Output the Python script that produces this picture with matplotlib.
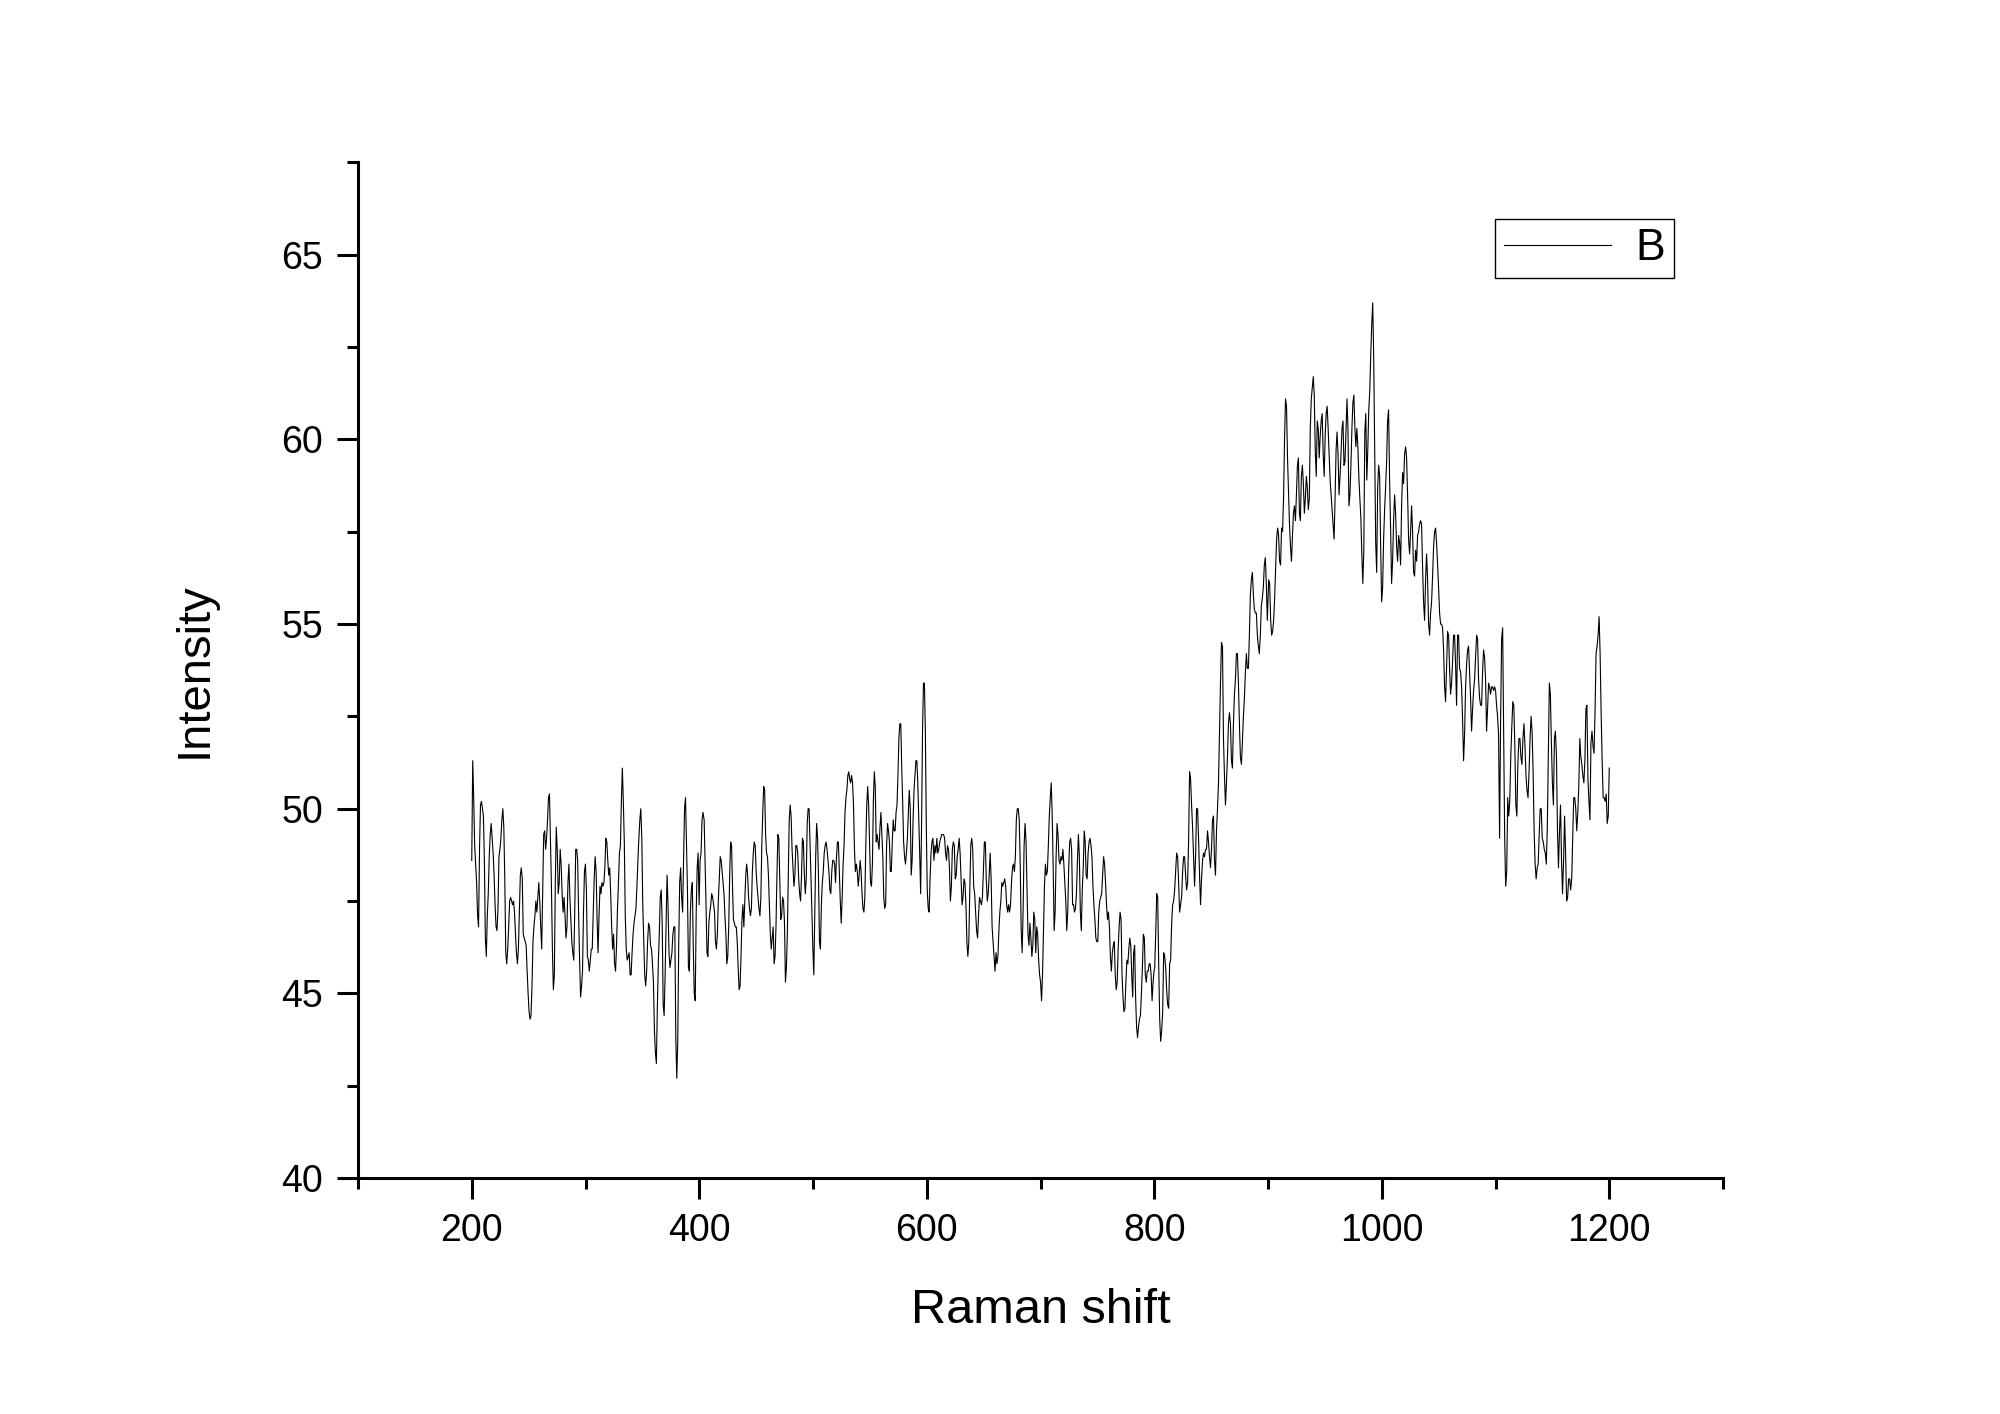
import numpy as np
import matplotlib
matplotlib.use("Agg")
import matplotlib.pyplot as plt
from matplotlib.ticker import MultipleLocator

plt.rcParams['font.family'] = ['Liberation Sans', 'DejaVu Sans']

# spectrum, in pieces (start shift, end shift, intensities)
seg1_range = [200.0, 403.3]
seg1 = [48.6, 51.3, 50.3, 49.0, 48.5, 48.0, 47.1, 46.8, 48.9, 50.1, 50.2, 50.0, 49.8, 48.6, 46.5, 46.0,
        47.1, 47.7, 48.7, 49.3, 49.6, 49.2, 48.8, 48.2, 47.4, 46.8, 46.7, 47.3, 48.7, 48.9, 49.2, 49.7,
        50.0, 49.5, 48.1, 46.1, 45.8, 46.2, 46.8, 47.5, 47.6, 47.5, 47.4, 47.5, 47.2, 46.6, 46.1, 45.8,
        46.2, 47.2, 48.2, 48.4, 48.1, 46.6, 46.5, 46.4, 46.3, 45.6, 45.0, 44.5, 44.3, 44.4, 45.2, 46.4,
        46.8, 47.1, 47.5, 47.2, 47.6, 48.0, 47.5, 46.8, 46.2, 47.7, 49.3, 49.4, 48.9, 49.2, 49.7, 50.3,
        50.4, 49.1, 47.9, 46.2, 45.1, 45.5, 48.0, 49.5, 48.9, 47.7, 48.0, 48.9, 48.5, 47.7, 47.2, 47.6,
        47.1, 46.5, 46.8, 48.0, 48.5, 47.6, 47.0, 46.4, 46.1, 45.9, 47.2, 48.9, 48.9, 48.6, 47.1, 45.9,
        44.9, 45.2, 45.6, 47.2, 48.3, 48.5, 47.8, 46.0, 45.9, 45.6, 45.9, 46.2, 46.2, 47.2, 48.1, 48.7,
        48.3, 47.0, 46.1, 47.1, 47.9, 47.7, 48.0, 47.9, 48.0, 48.4, 49.2, 49.1, 48.6, 48.2, 48.4, 47.7,
        46.8, 46.2, 46.6, 45.8, 45.6, 46.3, 47.3, 48.0, 48.8, 49.0, 50.2, 51.1, 50.2, 49.1, 47.1, 46.2,
        45.9, 46.0, 46.1, 45.5, 45.5, 46.1, 46.6, 46.9, 47.1, 47.3, 47.9, 48.6, 49.2, 49.7, 50.0, 49.2,
        47.4, 46.4, 45.5, 45.2, 45.6, 46.4, 46.9, 46.8, 46.3, 46.2, 45.8, 45.3, 44.0, 43.4, 43.1, 44.6,
        45.8, 46.6, 47.6, 47.8, 46.9, 44.7, 44.4, 45.5, 46.9, 48.2, 47.4, 46.1, 45.7, 45.9, 46.1, 46.6,
        46.8, 46.8, 43.8, 42.7, 43.7, 46.3, 48.0, 48.4, 47.6, 47.2, 48.6, 50.0, 50.3, 49.1, 47.8, 45.7,
        45.6, 47.2, 47.8, 48.0, 46.2, 45.0, 44.8, 47.2, 48.4, 48.8, 47.4, 48.6, 48.8, 49.7, 49.9]

seg2_range = [404.3, 602.1]
seg2 = [49.7, 48.6, 47.4, 46.1, 46.0, 46.9, 47.2, 47.4, 47.7, 47.6, 47.4, 47.2, 46.4, 46.2, 46.6, 47.5,
        48.1, 48.7, 48.6, 48.3, 48.0, 47.7, 47.1, 46.6, 45.8, 46.0, 46.8, 48.2, 49.1, 49.0, 47.9, 47.0,
        46.9, 46.8, 46.8, 46.4, 45.7, 45.1, 45.2, 46.0, 47.0, 47.4, 46.8, 47.5, 48.2, 48.5, 48.2, 47.6,
        47.3, 47.1, 47.3, 48.3, 48.8, 49.1, 49.0, 48.3, 47.9, 47.6, 47.3, 47.1, 47.6, 49.0, 49.9, 50.6,
        50.5, 49.3, 48.8, 48.7, 48.2, 47.4, 46.6, 46.2, 46.5, 46.8, 45.8, 46.0, 46.8, 48.2, 49.3, 49.2,
        48.1, 47.0, 47.1, 47.6, 47.5, 46.9, 45.3, 45.7, 46.6, 48.1, 49.7, 50.1, 49.8, 48.9, 48.4, 47.9,
        48.2, 49.0, 49.0, 48.8, 48.1, 47.7, 47.5, 48.2, 49.2, 49.1, 48.2, 47.7, 48.1, 49.6, 50.0, 50.0,
        49.1, 48.2, 47.2, 46.2, 45.5, 47.1, 48.7, 49.6, 49.2, 48.1, 46.4, 46.2, 47.4, 48.0, 48.3, 48.8,
        49.0, 49.1, 48.9, 48.6, 48.3, 47.8, 47.7, 48.3, 48.6, 48.6, 48.5, 48.0, 48.7, 49.1, 49.1, 48.3,
        47.5, 46.9, 47.6, 48.5, 49.0, 49.9, 50.3, 50.5, 50.9, 51.0, 50.8, 50.7, 50.9, 50.7, 50.1, 48.9,
        48.3, 48.5, 48.3, 47.9, 48.2, 48.6, 48.3, 47.7, 47.3, 47.2, 47.6, 49.0, 50.1, 50.6, 50.1, 49.1,
        48.0, 47.9, 48.5, 50.2, 51.0, 50.6, 49.1, 49.3, 49.1, 48.9, 49.5, 49.9, 49.3, 48.7, 47.6, 47.3,
        47.4, 49.0, 49.6, 49.4, 49.1, 48.3, 48.3, 49.1, 49.7, 49.4, 49.4, 49.9, 50.1, 50.9, 51.9, 52.3,
        52.3, 51.1, 50.2, 49.1, 48.7, 48.5, 48.8, 49.2, 49.9, 50.5, 50.0, 48.2, 48.6, 49.7, 50.5, 50.9,
        51.3, 51.3, 50.7, 49.8, 48.8, 47.7, 49.6, 52.1, 53.4, 53.4, 52.1, 49.5, 47.8, 47.3, 47.2]

seg3_range = [602.9, 799.8]
seg3 = [48.1, 48.8, 49.1, 49.2, 48.6, 49.0, 48.8, 49.2, 48.8, 48.9, 49.1, 49.2, 49.3, 49.3, 49.3, 49.2,
        48.8, 48.6, 49.0, 48.9, 48.4, 47.5, 47.9, 48.9, 49.1, 49.0, 48.1, 48.2, 48.7, 48.9, 49.2, 48.8,
        48.1, 47.4, 47.6, 48.1, 48.0, 47.4, 46.4, 46.0, 46.4, 47.8, 49.0, 49.2, 48.9, 47.9, 47.7, 47.2,
        46.7, 46.5, 47.1, 47.6, 47.5, 47.4, 47.6, 48.3, 49.1, 49.1, 48.1, 47.5, 47.7, 48.2, 48.8, 48.1,
        46.8, 46.4, 46.0, 45.6, 46.1, 45.8, 46.0, 46.7, 47.2, 47.5, 48.0, 47.9, 48.0, 48.1, 47.9, 47.4,
        47.2, 47.4, 47.2, 47.4, 48.0, 48.4, 48.5, 48.3, 48.7, 49.7, 50.0, 50.0, 49.7, 48.5, 46.7, 46.1,
        47.3, 49.0, 49.6, 49.1, 47.8, 46.6, 46.3, 46.9, 46.5, 46.0, 46.3, 47.2, 47.0, 46.1, 46.8, 46.6,
        45.9, 45.5, 45.3, 44.8, 45.5, 46.7, 47.9, 48.5, 48.2, 48.3, 49.0, 49.8, 50.3, 50.7, 49.8, 48.4,
        46.7, 47.2, 48.7, 49.6, 49.3, 48.6, 48.5, 48.7, 48.6, 48.9, 48.5, 48.0, 47.5, 46.7, 47.2, 48.4,
        49.1, 49.2, 48.9, 47.4, 47.4, 47.2, 47.3, 47.7, 48.6, 49.3, 48.7, 47.2, 46.7, 47.8, 48.4, 49.4,
        49.1, 48.2, 48.1, 48.8, 49.1, 49.2, 49.0, 48.7, 47.9, 47.4, 47.0, 46.5, 46.4, 46.4, 47.2, 47.5,
        47.6, 47.7, 48.2, 48.7, 48.5, 48.0, 47.4, 47.0, 47.2, 46.8, 46.0, 45.6, 46.1, 46.3, 46.4, 45.5,
        45.1, 45.3, 46.2, 46.8, 47.2, 47.0, 45.5, 44.9, 44.5, 44.6, 45.3, 45.9, 45.8, 46.2, 46.5, 46.3,
        45.5, 44.9, 46.1, 46.3, 44.9, 44.1, 43.8, 44.1, 44.3, 44.4, 45.0, 45.7, 46.6, 46.5, 45.5, 45.3,
        45.6, 45.6, 45.8, 45.8, 45.5, 44.8, 45.3, 45.6]

seg4_range = [800.4, 899.4]
seg4 = [45.7, 46.6, 47.7, 47.6, 45.8, 44.3, 43.7, 44.0, 44.5, 46.1, 46.0, 45.7, 45.1, 44.7, 44.6, 45.8,
        45.9, 46.9, 47.4, 47.5, 47.8, 48.3, 48.8, 48.7, 48.0, 47.2, 47.4, 47.6, 48.3, 48.7, 48.7, 48.2,
        47.8, 48.0, 49.1, 51.0, 50.8, 50.1, 49.5, 48.7, 47.9, 48.7, 50.0, 50.0, 49.2, 48.2, 47.4, 48.1,
        48.6, 48.8, 48.7, 48.9, 48.9, 49.4, 49.1, 48.7, 48.4, 48.9, 49.7, 49.8, 48.6, 48.2, 49.4, 50.0,
        50.7, 52.1, 53.4, 54.5, 54.4, 51.9, 50.9, 50.1, 50.7, 51.4, 52.3, 52.6, 52.3, 51.3, 51.1, 52.3,
        53.1, 53.5, 54.2, 54.2, 53.4, 52.3, 51.4, 51.2, 51.8, 52.5, 53.0, 53.7, 54.2, 53.8, 53.8, 54.7,
        55.8, 56.2, 56.4, 55.8, 55.4, 55.3, 55.3, 54.7, 54.4, 54.2, 54.7, 55.5, 55.7, 56.0, 56.6, 56.8,
        56.1, 55.1]

seg5_range = [900.6, 1006.0]
seg5 = [56.2, 56.1, 55.1, 54.7, 54.8, 55.1, 55.7, 56.5, 57.3, 57.6, 57.4, 56.7, 56.6, 57.6, 57.5, 58.4,
        60.0, 61.1, 60.9, 59.5, 58.6, 57.7, 57.1, 56.7, 57.4, 58.0, 58.2, 57.8, 58.5, 59.3, 59.5, 58.0,
        57.8, 59.0, 59.3, 58.8, 58.0, 58.4, 59.0, 58.7, 58.1, 58.4, 60.3, 61.1, 61.4, 61.7, 61.2, 59.7,
        59.0, 60.5, 60.3, 59.5, 60.1, 60.5, 60.7, 59.6, 59.0, 60.1, 60.7, 60.9, 60.3, 59.6, 58.9, 58.5,
        58.1, 57.7, 57.3, 58.4, 59.7, 60.2, 59.6, 58.5, 59.0, 59.6, 60.3, 60.5, 59.3, 59.4, 60.2, 61.1,
        60.3, 58.2, 58.5, 59.3, 60.3, 61.0, 61.2, 60.3, 59.8, 60.3, 59.8, 59.0, 58.4, 57.9, 56.9, 56.1,
        57.0, 60.2, 60.7, 58.9, 59.7, 60.8, 61.3, 62.3, 63.1, 63.7, 62.2, 59.6, 57.2, 56.4, 58.7, 59.3,
        59.0, 57.1, 55.6, 56.0, 57.3, 58.1, 58.7, 59.4, 60.5, 60.8]

seg6_range = [1006.9, 1102.7]
seg6 = [58.9, 57.6, 56.1, 56.7, 57.8, 58.5, 58.0, 57.1, 56.7, 57.4, 57.2, 56.6, 58.2, 59.1, 58.8, 59.6,
        59.8, 59.5, 58.5, 57.3, 56.9, 57.5, 58.2, 57.5, 56.4, 56.3, 57.0, 56.7, 57.4, 57.5, 57.7, 57.8,
        57.7, 56.5, 55.6, 55.1, 56.2, 56.9, 56.2, 55.0, 54.7, 55.3, 55.6, 56.3, 57.1, 57.5, 57.6, 57.2,
        56.6, 56.0, 55.3, 55.0, 55.0, 54.9, 54.3, 53.3, 52.9, 53.9, 54.8, 54.7, 53.8, 53.1, 53.4, 54.0,
        54.7, 54.7, 53.9, 52.8, 54.7, 54.7, 53.8, 53.7, 53.3, 52.4, 51.3, 52.0, 53.3, 53.9, 54.3, 54.4,
        53.7, 53.0, 52.1, 52.7, 53.2, 53.5, 54.1, 54.7, 54.6, 53.5, 53.0, 52.8, 52.8, 53.7, 54.3, 54.1,
        53.5, 52.1, 52.7, 53.4, 53.3, 53.1, 53.3, 53.3, 53.2, 53.3, 53.2, 52.8, 52.5, 52.0]

seg7_range = [1103.6, 1200.0]
seg7 = [49.2, 52.4, 54.6, 54.9, 51.9, 49.2, 47.9, 48.3, 50.3, 49.8, 50.2, 51.4, 52.2, 52.9, 52.8, 51.7,
        50.1, 49.8, 51.2, 51.9, 51.9, 51.4, 51.2, 51.9, 52.3, 51.7, 50.9, 50.5, 50.3, 51.0, 51.9, 52.5,
        52.1, 51.0, 49.4, 48.5, 48.1, 48.4, 48.5, 49.3, 50.0, 50.0, 49.2, 49.1, 48.9, 48.8, 48.5, 49.5,
        51.4, 53.4, 53.1, 51.8, 50.7, 50.1, 51.9, 52.1, 51.4, 49.4, 48.4, 49.4, 50.1, 48.6, 47.7, 48.6,
        49.8, 48.8, 47.5, 47.6, 48.1, 48.1, 47.8, 48.1, 49.2, 50.3, 50.3, 50.0, 49.4, 49.9, 50.6, 51.9,
        51.4, 51.2, 50.9, 50.7, 51.3, 52.7, 52.8, 50.8, 50.2, 49.7, 51.8, 52.1, 51.7, 51.5, 52.6, 54.2,
        54.4, 54.7, 55.2, 54.2, 52.6, 51.3, 50.3, 50.3, 50.2, 50.4, 49.6, 49.8, 51.1]

segments = [(seg1_range, seg1), (seg2_range, seg2), (seg3_range, seg3), (seg4_range, seg4),
            (seg5_range, seg5), (seg6_range, seg6), (seg7_range, seg7)]

shift = np.concatenate([np.linspace(r[0], r[1], len(v)) for r, v in segments])
intensity = np.concatenate([np.array(v) for r, v in segments])

fig = plt.figure(figsize=(20, 14.14), dpi=100)
ax = fig.add_axes([0.179, 0.1669, 0.6825, 0.7182])

ax.plot(shift, intensity, color="black", linewidth=0.8, label="B")

ax.set_xlim(100, 1300)
ax.set_ylim(40, 67.5)
ax.set_xticks([200, 400, 600, 800, 1000, 1200])
ax.xaxis.set_minor_locator(MultipleLocator(100))
ax.set_yticks([40, 45, 50, 55, 60, 65])
ax.yaxis.set_minor_locator(MultipleLocator(2.5))

for side in ["top", "right"]:
    ax.spines[side].set_visible(False)
for side in ["left", "bottom"]:
    ax.spines[side].set_linewidth(2.2)

ax.tick_params(which="major", direction="out", length=15, width=2.2, labelsize=27, pad=10)
ax.tick_params(which="minor", direction="out", length=8, width=2.2)

ax.set_xlabel("Raman shift", fontsize=35, labelpad=28)
ax.set_ylabel("Intensity", fontsize=34, labelpad=47)

leg = ax.legend(loc="upper left", bbox_to_anchor=(0.833, 0.944), borderaxespad=0,
                fontsize=32, handlelength=2.4, handletextpad=0.55, borderpad=0.2,
                fancybox=False, framealpha=1, edgecolor="black")
leg.get_frame().set_linewidth(1.0)

fig.savefig("out.png", dpi=100)
